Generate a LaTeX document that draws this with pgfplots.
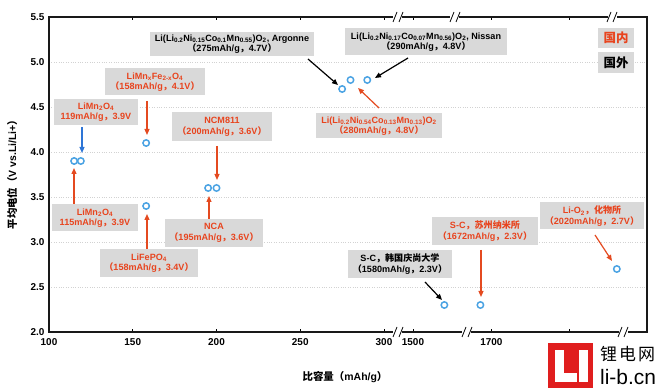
\documentclass[border=0pt]{standalone}
\usepackage{pgfplots}
\pgfplotsset{compat=1.18}
\usepackage{fontspec}
\setmainfont{Liberation Sans}
\newfontfamily\cjk{Noto Sans CJK SC}
\usetikzlibrary{arrows.meta}
\definecolor{redtxt}{RGB}{232,68,30}
\definecolor{redarr}{RGB}{228,74,32}
\definecolor{boxgray}{RGB}{217,217,217}
\definecolor{ptblue}{RGB}{75,163,227}
\definecolor{arrblue}{RGB}{46,117,214}
\definecolor{logored}{RGB}{224,30,30}
\newcommand{\cm}{{\cjk ，}}
\newcommand{\lp}{{\cjk （}}
\newcommand{\rp}{{\cjk ）}}
\newcommand{\ts}[1]{\textsubscript{#1}}
\newcommand{\ann}[6]{\node[fill=boxgray, text=#5, minimum width=#3bp, minimum height=#4bp, inner sep=1bp, align=center, font=\bfseries\fontsize{9.1}{10.6}\selectfont] at (#1,#2) {#6};}
\newcommand{\arr}[5]{\draw[#5, line width=1.2bp, -{Triangle[length=6bp,width=5bp]}] (#1,#2) -- (#3,#4);}
\newcommand{\brk}[2]{\fill[white] (#1-4.5,#2-3) rectangle (#1+4.5,#2+3);
  \draw[black, line width=0.8bp] (#1-5,#2+5) -- (#1-1,#2-5) (#1+1,#2+5) -- (#1+5,#2-5);}
\begin{document}
\begin{tikzpicture}
\useasboundingbox (-49bp,-58bp) rectangle (615bp,332bp);
\begin{axis}[
  scale only axis, width=598bp, height=315bp,
  xmin=100, xmax=457, ymin=2, ymax=5.5,
  x filter/.expression={x<1000 ? x : 317.3+(x-1500)*0.234},
  xtick={100,150,200,250,300,317.3,364.1,410.9},
  xticklabels={100,150,200,250,300,1500,1700,{}},
  ytick={2,2.5,3,3.5,4,4.5,5,5.5},
  yticklabel style={xshift=-1bp, /pgf/number format/fixed, /pgf/number format/fixed zerofill, /pgf/number format/precision=1},
  ticklabel style={font=\bfseries\fontsize{10}{11}\selectfont},
  /pgf/number format/assume math mode=true,
  xticklabel style={yshift=-3bp},
  ymajorgrids, grid style={gray!35, dotted, line width=0.7bp},
  axis line style={line width=1.5bp, black!90},
  xtick style={black, line width=0.8bp},
  ytick style={draw=none},
  major tick length=3bp, tick align=inside,
  clip=false,
]
\addplot[only marks, mark=*, mark size=3.2bp, draw=ptblue, fill=white, line width=1.5bp]
  coordinates {(115,3.9) (119,3.9) (158,4.1) (158,3.4) (195,3.6) (200,3.6)
               (275,4.7) (280,4.8) (290,4.8) (1580,2.3) (1672,2.3) (2020,2.7)};
\end{axis}
\begin{scope}[x=1bp, y=-1bp, shift={(-49bp,332bp)}]
  % axis breaks
  \brk{398}{17} \brk{455}{17} \brk{612}{17}
  \brk{398}{332} \brk{467}{332} \brk{623}{332}
  % annotations
  \ann{96}{112}{84}{26}{redtxt}{LiMn\ts{2}O\ts{4}\\119mAh/g\cm 3.9V}
  \arr{82}{127}{82}{153}{arrblue}
  \ann{95}{218}{85}{27}{redtxt}{LiMn\ts{2}O\ts{4}\\115mAh/g\cm 3.9V}
  \arr{74}{204}{74}{168}{redarr}
  \ann{155}{82}{99}{27}{redtxt}{LiMn\ts{x}Fe\ts{2-x}O\ts{4}\\\lp 158mAh/g\cm 4.1V\rp}
  \arr{147}{101}{147}{135}{redarr}
  \ann{222}{127}{99}{29}{redtxt}{NCM811\\\lp 200mAh/g\cm 3.6V\rp}
  \arr{217}{146}{217}{180}{redarr}
  \ann{149}{263}{98}{28}{redtxt}{LiFePO\ts{4}\\\lp 158mAh/g\cm 3.4V\rp}
  \arr{147}{249}{147}{214}{redarr}
  \ann{214}{233}{98}{28}{redtxt}{NCA\\\lp 195mAh/g\cm 3.6V\rp}
  \arr{209}{219}{209}{196}{redarr}
  \ann{232}{44}{163}{24}{black}{Li(Li\ts{0.2}Ni\ts{0.15}Co\ts{0.1}Mn\ts{0.55})O\ts{2}, Argonne\\\lp 275mAh/g\cm 4.7V\rp}
  \arr{308}{59}{338}{85}{black}
  \ann{426}{42}{162}{27}{black}{Li(Li\ts{0.2}Ni\ts{0.17}Co\ts{0.07}Mn\ts{0.56})O\ts{2}, Nissan\\\lp 290mAh/g\cm 4.8V\rp}
  \arr{408}{58}{375}{78}{black}
  \ann{379}{126}{126}{25}{redtxt}{Li(Li\ts{0.2}Ni\ts{0.54}Co\ts{0.13}Mn\ts{0.13})O\ts{2}\\\lp 280mAh/g\cm 4.8V\rp}
  \arr{379}{108}{358}{88}{redarr}
  \ann{400}{264}{104}{28}{black}{S-C\cm{\cjk 韩国庆尚大学}\\\lp 1580mAh/g\cm 2.3V\rp}
  \arr{425}{282}{442}{300}{black}
  \ann{485}{231}{105}{28}{redtxt}{S-C\cm{\cjk 苏州纳米所}\\\lp 1672mAh/g\cm 2.3V\rp}
  \arr{481}{250}{481}{297}{redarr}
  \ann{592}{216}{103}{27}{redtxt}{Li-O\ts{2}\cm{\cjk 化物所}\\\lp 2020mAh/g\cm 2.7V\rp}
  \arr{595}{235}{612}{261}{redarr}
  % legend
  \node[fill=boxgray, text=redtxt, minimum width=36bp, minimum height=20bp, inner sep=1bp, font=\cjk\bfseries\fontsize{12.5}{13}\selectfont] at (616,38) {国内};
  \node[fill=boxgray, text=black, minimum width=36bp, minimum height=21bp, inner sep=1bp, font=\cjk\bfseries\fontsize{12.5}{13}\selectfont] at (616,63) {国外};
  % axis labels
  \node[font=\bfseries\fontsize{10.5}{12}\selectfont] at (345,377) {{\cjk 比容量（}mAh/g{\cjk ）}};
  \node[rotate=90, font=\bfseries\fontsize{10.5}{12}\selectfont] at (12,172) {{\cjk 平均电位（}V vs.Li/Li+{\cjk ）}};
  % logo
  \fill[logored] (548,343) rectangle (593,388);
  \fill[white] (555,350) rectangle (564,382);
  \fill[white] (555,373) rectangle (577,382);
  \fill[white] (579,350) rectangle (588,382);
  \node[anchor=west, inner sep=0pt, font=\cjk\fontsize{17}{18}\selectfont] at (600,354) {锂\hspace{2pt}电\hspace{2pt}网};
  \node[anchor=west, inner sep=0pt, font=\fontsize{21}{22}\selectfont] at (600,377) {li-b.cn};
\end{scope}
\end{tikzpicture}
\end{document}
